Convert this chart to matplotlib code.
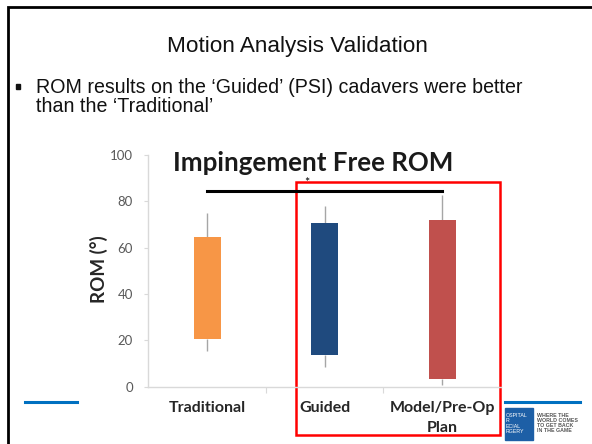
import matplotlib
matplotlib.use("Agg")
import matplotlib.pyplot as plt
from matplotlib.patches import Rectangle

# Impingement-free ROM per group (degrees)
categories = ["Traditional", "Guided", "Model/Pre-Op\nPlan"]
box_low = [20.6, 13.8, 3.5]
box_high = [64.5, 70.8, 71.9]
whisker_low = [15.5, 8.5, 0.7]
whisker_high = [75.1, 78.1, 82.7]
bar_colors = ["#F79646", "#1F4A7E", "#C0504D"]
yticks = [0, 20, 40, 60, 80, 100]
sig_pair = (0, 2)
sig_height = 84.6

W, H = 592, 444
fig = plt.figure(figsize=(W / 100, H / 100), dpi=100)
fig.patch.set_facecolor("white")

def fx(px):
    return px / W

def fy(py):
    return 1 - py / H

slide_font = ["Liberation Sans", "DejaVu Sans"]
chart_font = ["Lato", "DejaVu Sans"]

# Slide frame
frame = fig.add_axes([0, 0, 1, 1], zorder=-5)
frame.set_xlim(0, W)
frame.set_ylim(H, 0)
frame.axis("off")
frame.plot([7.5, 7.5, 600], [450, 7.3, 7.3], color="black", lw=2.0,
           solid_joinstyle="miter")
frame.plot([25, 77], [401.5, 401.5], color="#0070C0", lw=2.2)
frame.plot([505, 580], [401.5, 401.5], color="#0070C0", lw=2.2)

# Slide title and bullet
fig.text(fx(297.5), fy(52.3), "Motion Analysis Validation", family=slide_font,
         fontsize=16.2, ha="center", va="baseline", color="#111111")
frame.add_patch(Rectangle((15.5, 84.5), 4.6, 4.6, color="#111111"))
fig.text(fx(36), fy(93.3), "ROM results on the \u2018Guided\u2019 (PSI) cadavers were better",
         family=slide_font, fontsize=14.1, ha="left", va="baseline", color="#111111")
fig.text(fx(36), fy(112.5), "than the \u2018Traditional\u2019",
         family=slide_font, fontsize=14.1, ha="left", va="baseline", color="#111111")

# Chart
ax = fig.add_axes([fx(148.3), fy(386.7), fx(500.8 - 148.3), (386.7 - 155) / H])
ax.set_xlim(-0.5, len(categories) - 0.5)
ax.set_ylim(0, 100)
ax.set_facecolor("none")

xs = list(range(len(categories)))
heights = [h - l for h, l in zip(box_high, box_low)]
ax.vlines(xs, box_high, whisker_high, color="#A6A6A6", lw=1.0, zorder=1)
ax.vlines(xs, whisker_low, box_low, color="#A6A6A6", lw=1.0, zorder=1)
ax.bar(xs, heights, bottom=box_low, width=0.23, color=bar_colors, zorder=2)

ax.plot(sig_pair, [sig_height, sig_height], color="black", lw=2.2, zorder=3)
ax.text(0.85, sig_height + 0.6, "*", ha="center", va="bottom",
        fontsize=9, color="black", family=chart_font)

for s in ["top", "right"]:
    ax.spines[s].set_visible(False)
for s in ["left", "bottom"]:
    ax.spines[s].set_color("#D9D9D9")
    ax.spines[s].set_linewidth(1.0)

ax.set_yticks(yticks)
ax.set_yticklabels([str(v) for v in yticks], family=chart_font,
                   fontsize=9.5, color="#595959")
ax.tick_params(axis="y", length=3, color="#D9D9D9", pad=8)
ax.set_xticks([x + 0.5 for x in xs[:-1]])
ax.set_xticklabels([])
ax.tick_params(axis="x", length=4, color="#D9D9D9", direction="out")

# Category names under the axis, one text per line
first_line = (386.7 - 412.3) / 2.317
second_line = (386.7 - 431.7) / 2.317
for x, name in zip(xs, categories):
    for line, yb in zip(name.split("\n"), [first_line, second_line]):
        ax.text(x, yb, line, ha="center", va="baseline", fontsize=11.5,
                fontweight="bold", color="#262626", family=chart_font,
                clip_on=False)

fig.text(fx(98.5), fy(269), "ROM (\u00b0)", family=chart_font, fontsize=13.5,
         fontweight="bold", color="#262626", rotation=90, ha="center", va="center")

fig.text(fx(313), fy(171), "Impingement Free ROM", family=chart_font,
         fontsize=18.6, fontweight="bold", ha="center", va="baseline", color="#1a1a1a")

# Highlight box around the two guided groups
frame.add_patch(Rectangle((296, 181.5), 203.5, 253.5, fill=False,
                          edgecolor="#FF0000", lw=1.8, zorder=10))

# Logo block
frame.add_patch(Rectangle((505, 408), 28, 32, color="#1D5FA6", zorder=4))
for yy, t in zip([415, 420, 426, 431], ["OSPITAL", "R", "ECIAL", "RGERY"]):
    frame.text(505.5, yy, t, fontsize=3.8, color="white",
               family=slide_font, va="center", zorder=5)
for i, t in enumerate(["WHERE THE", "WORLD COMES", "TO GET BACK", "IN THE GAME"]):
    frame.text(537, 415 + i * 5, t, fontsize=3.8, color="#555555",
               family=slide_font, va="center", fontweight="bold")

fig.savefig("out.png", dpi=100, facecolor="white")
